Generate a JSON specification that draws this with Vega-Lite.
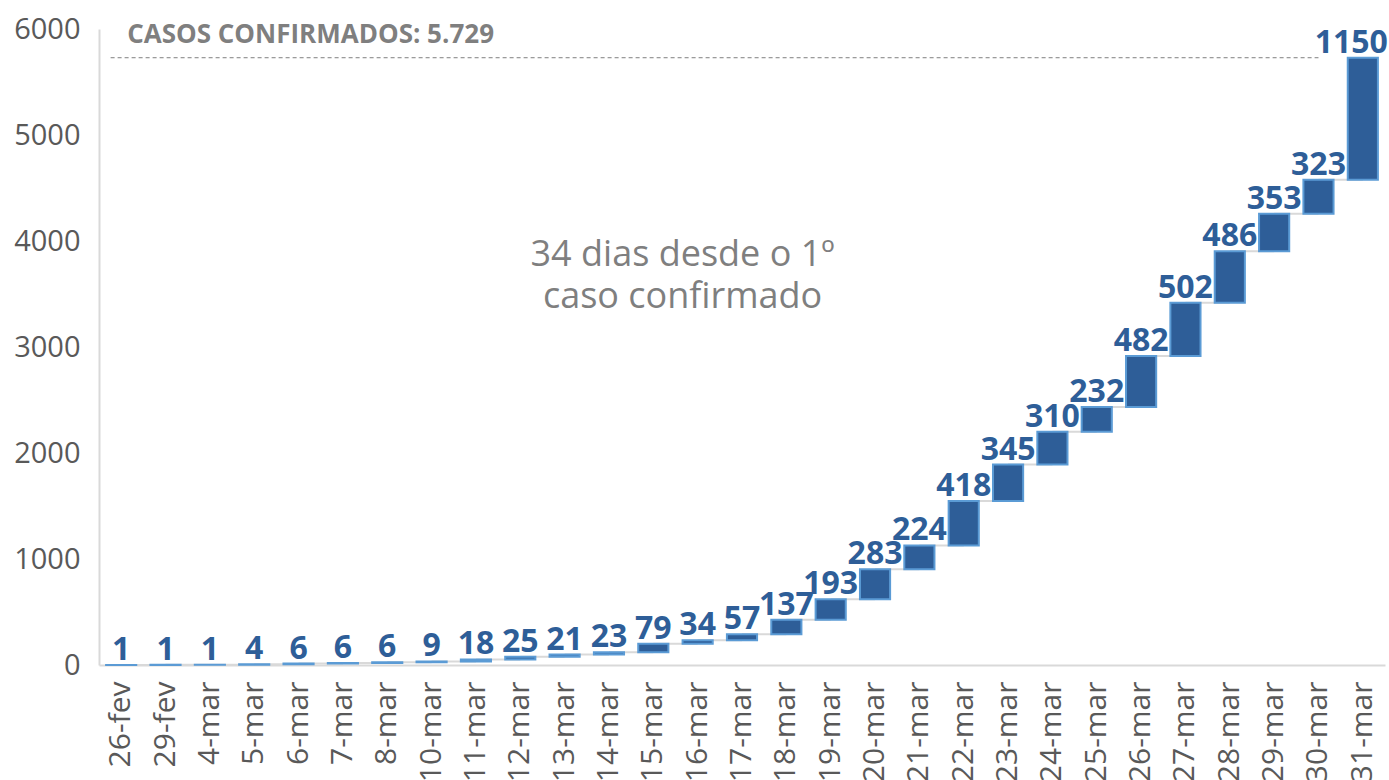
{
  "$schema": "https://vega.github.io/schema/vega-lite/v6.json",
  "autosize": {"type": "none"},
  "padding": {"left": 99, "top": 29, "right": 4, "bottom": 115},
  "width": 1286,
  "height": 636,
  "background": "white",
  "config": {"view": {"stroke": null}, "font": "Open Sans"},
  "data": {"values": [
    {"date": "26-fev", "delta": 1, "start": 0, "end": 1, "next": "29-fev"},
    {"date": "29-fev", "delta": 1, "start": 1, "end": 2, "next": "4-mar"},
    {"date": "4-mar", "delta": 1, "start": 2, "end": 3, "next": "5-mar"},
    {"date": "5-mar", "delta": 4, "start": 3, "end": 7, "next": "6-mar"},
    {"date": "6-mar", "delta": 6, "start": 7, "end": 13, "next": "7-mar"},
    {"date": "7-mar", "delta": 6, "start": 13, "end": 19, "next": "8-mar"},
    {"date": "8-mar", "delta": 6, "start": 19, "end": 25, "next": "10-mar"},
    {"date": "10-mar", "delta": 9, "start": 25, "end": 34, "next": "11-mar"},
    {"date": "11-mar", "delta": 18, "start": 34, "end": 52, "next": "12-mar"},
    {"date": "12-mar", "delta": 25, "start": 52, "end": 77, "next": "13-mar"},
    {"date": "13-mar", "delta": 21, "start": 77, "end": 98, "next": "14-mar"},
    {"date": "14-mar", "delta": 23, "start": 98, "end": 121, "next": "15-mar"},
    {"date": "15-mar", "delta": 79, "start": 121, "end": 200, "next": "16-mar"},
    {"date": "16-mar", "delta": 34, "start": 200, "end": 234, "next": "17-mar"},
    {"date": "17-mar", "delta": 57, "start": 234, "end": 291, "next": "18-mar"},
    {"date": "18-mar", "delta": 137, "start": 291, "end": 428, "next": "19-mar"},
    {"date": "19-mar", "delta": 193, "start": 428, "end": 621, "next": "20-mar"},
    {"date": "20-mar", "delta": 283, "start": 621, "end": 904, "next": "21-mar"},
    {"date": "21-mar", "delta": 224, "start": 904, "end": 1128, "next": "22-mar"},
    {"date": "22-mar", "delta": 418, "start": 1128, "end": 1546, "next": "23-mar"},
    {"date": "23-mar", "delta": 345, "start": 1546, "end": 1891, "next": "24-mar"},
    {"date": "24-mar", "delta": 310, "start": 1891, "end": 2201, "next": "25-mar"},
    {"date": "25-mar", "delta": 232, "start": 2201, "end": 2433, "next": "26-mar"},
    {"date": "26-mar", "delta": 482, "start": 2433, "end": 2915, "next": "27-mar"},
    {"date": "27-mar", "delta": 502, "start": 2915, "end": 3417, "next": "28-mar"},
    {"date": "28-mar", "delta": 486, "start": 3417, "end": 3903, "next": "29-mar"},
    {"date": "29-mar", "delta": 353, "start": 3903, "end": 4256, "next": "30-mar"},
    {"date": "30-mar", "delta": 323, "start": 4256, "end": 4579, "next": "31-mar"},
    {"date": "31-mar", "delta": 1150, "start": 4579, "end": 5729, "next": null}
  ]},
  "encoding": {
    "x": {
      "field": "date", "type": "nominal", "sort": null,
      "scale": {"paddingInner": 0.32, "paddingOuter": 0.16},
      "axis": {
        "title": null, "labelAngle": -90, "labelFontSize": 30, "labelColor": "#595959",
        "labelPadding": 16, "ticks": false, "domainColor": "#D9D9D9", "domainWidth": 2,
        "labelFont": "Open Sans"
      }
    }
  },
  "layer": [
    {
      "transform": [{"filter": "datum.next != null"}],
      "mark": {"type": "rule", "color": "#D9D9D9", "strokeWidth": 2},
      "encoding": {
        "x2": {"field": "next"},
        "y": {"field": "end", "type": "quantitative"}
      }
    },
    {
      "mark": {"type": "bar", "fill": "#2E5E98", "stroke": "#5B9BD5", "strokeWidth": 2},
      "encoding": {
        "y": {
          "field": "start", "type": "quantitative",
          "scale": {"domain": [0, 6000], "nice": false},
          "axis": {
            "title": null, "values": [0, 1000, 2000, 3000, 4000, 5000, 6000], "format": "d",
            "labelFontSize": 29, "labelColor": "#595959", "labelPadding": 19,
            "ticks": false, "grid": false, "domainColor": "#D9D9D9", "domainWidth": 2,
            "labelFont": "Open Sans"
          }
        },
        "y2": {"field": "end"}
      }
    },
    {
      "transform": [{"filter": "datum.next != null"}],
      "mark": {"type": "text", "fontWeight": "bold", "fontSize": 32, "color": "#2E5E98", "baseline": "alphabetic", "dy": -5, "font": "Open Sans"},
      "encoding": {
        "y": {"field": "end", "type": "quantitative"},
        "text": {"field": "delta", "type": "quantitative"}
      }
    },
    {
      "transform": [{"filter": "datum.next == null"}],
      "mark": {"type": "text", "fontWeight": "bold", "fontSize": 32, "color": "#2E5E98", "baseline": "alphabetic", "align": "right", "dx": 10, "dy": -5, "font": "Open Sans"},
      "encoding": {
        "x": {"field": "date", "type": "nominal", "sort": null, "bandPosition": 1},
        "y": {"field": "end", "type": "quantitative"},
        "text": {"field": "delta", "type": "quantitative"}
      }
    },
    {
      "data": {"values": [{"total": 5729}]},
      "mark": {"type": "rule", "color": "#7F7F7F", "strokeWidth": 1, "strokeDash": [4, 3]},
      "encoding": {
        "x": {"datum": "26-fev", "bandPosition": 0.15},
        "x2": {"datum": "30-mar"},
        "y": {"field": "total", "type": "quantitative"}
      }
    },
    {
      "data": {"values": [{"total": 5729, "label": "CASOS CONFIRMADOS: 5.729"}]},
      "mark": {"type": "text", "font": "Open Sans", "fontWeight": "bold", "fontSize": 26, "color": "#7F7F7F", "align": "left", "baseline": "alphabetic", "dy": -15},
      "encoding": {
        "x": {"datum": "26-fev", "bandPosition": 0.7},
        "y": {"field": "total", "type": "quantitative"},
        "text": {"field": "label"}
      }
    },
    {
      "data": {"values": [{"note": ["34 dias desde o 1º", "caso confirmado"]}]},
      "mark": {"type": "text", "font": "Open Sans", "fontSize": 36, "color": "#7F7F7F", "align": "center", "baseline": "middle", "lineHeight": 42},
      "encoding": {
        "x": {"datum": "16-mar", "bandPosition": 0},
        "y": {"datum": 3868},
        "text": {"field": "note"}
      }
    }
  ]
}
